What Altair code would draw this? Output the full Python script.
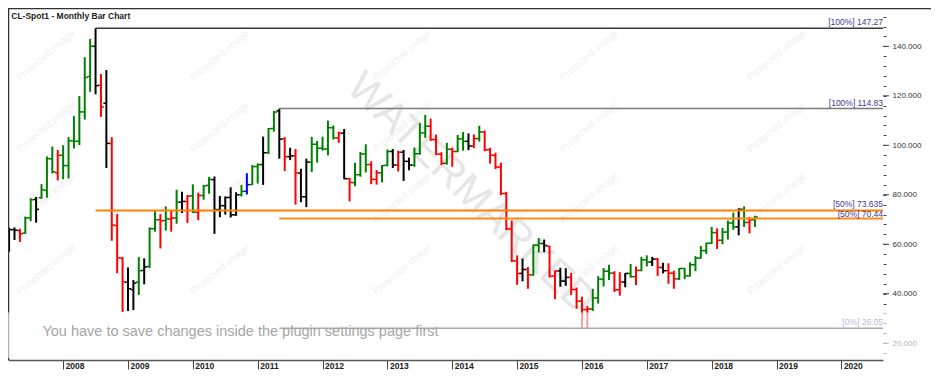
import altair as alt
import pandas as pd

# ---------------- data (monthly bars, month index 0 = Jan 2008) ----------------
first_month = -10  # March 2007

opens = [
    61.9, 65.9, 65.5, 64.5, 70.7, 78.1, 78.8, 81.8, 94.5, 88.9,            # 2007 Mar-Dec
    96.0, 91.8, 101.8, 101.6, 113.5, 127.8, 140.0, 124.3, 117.0, 100.7, 67.6, 54.4,  # 2008
    44.6, 41.7, 44.7, 49.4, 51.0, 66.3, 69.9, 69.6, 70.2, 70.6, 77.0, 77.3,          # 2009
    79.6, 72.9, 79.7, 83.8, 86.1, 74.0, 75.6, 78.9, 71.9, 80.0, 81.4, 84.1,          # 2010
    91.4, 92.2, 97.0, 106.8, 113.9, 102.6, 95.4, 95.7, 88.8, 79.2, 93.2, 100.4,      # 2011
    98.8, 98.5, 107.1, 103.0, 104.9, 86.5, 84.9, 88.1, 96.5, 92.2, 86.2, 88.9,       # 2012
    91.9, 97.5, 92.0, 97.2, 93.5, 92.0, 96.6, 105.0, 107.7, 102.3, 96.4, 92.7,       # 2013
    98.4, 97.5, 102.6, 101.6, 99.7, 102.7, 105.4, 98.2, 95.9, 91.2, 80.5, 66.1,      # 2014
    53.3, 48.2, 49.8, 47.6, 59.6, 60.3, 59.2, 47.1, 49.2, 45.1, 46.6, 41.7,          # 2015
    37.0, 33.6, 33.8, 38.3, 45.9, 49.1, 48.3, 41.6, 44.7, 48.2, 46.9, 49.4,          # 2016
    53.7, 52.8, 54.0, 50.6, 49.3, 48.3, 46.0, 50.2, 47.2, 51.7, 54.4, 57.4,          # 2017
    60.4, 64.7, 61.6, 64.9, 68.6, 67.0, 74.1, 68.8, 69.9,                            # 2018 Jan-Sep
]
highs = [
    66.7, 66.8, 66.3, 71.2, 78.6, 79.1, 84.3, 95.5, 99.5, 98.1,
    100.0, 103.3, 111.8, 119.9, 135.6, 143.0, 147.27, 128.8, 130.4, 103.3, 72.2, 54.8,
    50.6, 45.5, 54.8, 54.3, 66.8, 73.5, 72.2, 75.3, 73.5, 82.0, 81.2, 79.9,
    84.2, 80.8, 84.0, 87.2, 87.4, 79.5, 79.3, 83.0, 81.0, 84.0, 88.7, 92.0,
    92.7, 103.5, 107.0, 113.9, 114.83, 103.3, 99.0, 98.5, 90.5, 94.6, 103.4, 101.8,
    103.5, 110.0, 108.0, 105.5, 106.6, 86.8, 92.9, 97.3, 100.4, 93.5, 90.0, 92.0,
    98.3, 98.5, 97.8, 98.1, 95.0, 99.1, 109.0, 112.3, 110.8, 104.3, 97.2, 101.0,
    99.1, 104.2, 105.4, 104.8, 104.4, 107.9, 106.0, 99.0, 97.0, 93.0, 81.2, 69.6,
    55.5, 54.2, 50.8, 59.9, 62.5, 61.9, 59.4, 49.3, 50.5, 50.3, 48.4, 42.5,
    38.8, 35.0, 42.0, 47.1, 50.4, 51.7, 49.1, 48.7, 48.3, 52.0, 51.0, 54.9,
    55.5, 54.9, 54.4, 52.5, 52.3, 49.3, 50.4, 50.4, 52.7, 55.2, 59.3, 60.6,
    67.0, 66.4, 66.6, 69.6, 72.8, 74.5, 75.3, 71.0, 71.5,
]
lows = [
    57.0, 61.7, 60.9, 64.2, 69.3, 68.7, 78.4, 78.8, 88.6, 85.8,
    86.3, 86.6, 98.7, 100.1, 110.4, 121.6, 120.6, 111.5, 90.8, 61.4, 48.3, 32.6,
    33.0, 33.4, 39.5, 43.8, 50.4, 65.1, 58.3, 65.5, 65.1, 68.3, 72.6, 68.6,
    72.6, 69.7, 78.0, 80.4, 64.2, 70.9, 72.0, 70.8, 71.5, 79.3, 80.1, 84.0,
    84.5, 84.0, 96.5, 105.5, 94.6, 89.6, 94.0, 76.0, 77.0, 75.0, 89.2, 93.0,
    97.8, 95.9, 102.3, 101.0, 86.3, 77.3, 83.5, 87.3, 89.0, 84.3, 84.1, 85.0,
    91.5, 90.8, 89.4, 85.6, 89.9, 91.3, 96.2, 103.0, 101.8, 96.1, 92.0, 92.2,
    91.3, 97.2, 97.8, 98.0, 98.9, 101.5, 97.6, 92.6, 90.4, 79.8, 65.7, 52.8,
    43.6, 45.0, 42.0, 47.2, 56.7, 56.8, 46.5, 37.8, 42.8, 43.2, 39.5, 34.0,
    26.2, 26.05, 33.0, 36.0, 42.9, 45.5, 40.7, 39.2, 42.6, 46.5, 43.5, 49.1,
    51.0, 51.2, 47.2, 48.2, 44.0, 42.0, 45.5, 45.9, 47.0, 49.1, 54.2, 56.1,
    60.2, 58.1, 60.0, 61.9, 65.8, 63.6, 67.0, 64.4, 67.0,
]
closes = [
    65.9, 65.7, 64.2, 70.6, 78.0, 74.1, 82.0, 94.6, 89.3, 95.9,
    91.8, 101.8, 101.6, 113.5, 127.4, 140.0, 124.1, 115.5, 100.8, 67.8, 54.5, 44.8,
    42.0, 44.3, 49.3, 50.8, 66.3, 69.9, 69.5, 70.2, 70.6, 77.0, 77.3, 79.4,
    72.9, 79.7, 83.6, 86.2, 74.0, 75.6, 78.9, 71.9, 80.0, 81.4, 84.1, 91.4,
    92.2, 97.0, 106.7, 113.4, 102.5, 95.4, 95.7, 88.8, 79.2, 93.2, 100.4, 98.8,
    98.5, 107.1, 103.0, 104.9, 86.5, 85.0, 88.1, 96.5, 92.2, 86.2, 88.9, 91.8,
    97.5, 92.0, 97.2, 93.5, 92.0, 96.6, 105.0, 107.7, 102.3, 96.4, 92.7, 98.4,
    97.5, 102.6, 101.6, 99.7, 102.7, 105.4, 98.2, 96.0, 91.2, 80.5, 66.2, 53.3,
    48.2, 49.8, 47.6, 59.6, 60.3, 59.5, 47.1, 49.2, 45.1, 46.6, 41.7, 37.0,
    33.6, 33.8, 38.3, 45.9, 49.1, 48.3, 41.6, 44.7, 48.2, 46.9, 49.4, 53.7,
    52.8, 54.0, 50.6, 49.3, 48.3, 46.0, 50.2, 47.2, 51.7, 54.4, 57.4, 60.4,
    64.7, 61.6, 64.9, 68.6, 67.0, 74.1, 68.8, 69.8, 71.0,
]
# g = higher high/higher low, r = lower high/lower low, k = outside/inside, b = blue bar
bar_colors = [
    "k", "k", "r", "g", "g", "k", "g", "g", "g", "r",
    "g", "g", "g", "g", "g", "g", "k", "r", "k", "r", "r", "r",
    "k", "k", "g", "k", "g", "g", "r", "g", "r", "g", "k", "r",
    "g", "r", "g", "g", "k", "k", "k", "k", "k", "g", "b", "g",
    "g", "k", "g", "g", "k", "r", "k", "r", "k", "k", "g", "g",
    "g", "g", "g", "r", "k", "r", "g", "g", "g", "r", "r", "g",
    "g", "k", "r", "k", "k", "g", "g", "g", "r", "r", "r", "g",
    "r", "g", "g", "k", "r", "g", "r", "r", "r", "r", "r", "r",
    "r", "k", "r", "g", "g", "k", "r", "r", "k", "k", "r", "r",
    "r", "r", "g", "g", "g", "g", "r", "r", "k", "g", "r", "g",
    "g", "k", "r", "k", "r", "r", "g", "g", "g", "g", "g", "g",
    "g", "r", "g", "g", "g", "k", "g", "r", "g",
]

# retracement levels
level_values = [147.27, 114.83, 73.635, 70.44, 26.05]
level_start = [6, 40, 6, 40, 40]
level_labels = ["[100%] 147.27", "[100%] 114.83", "[50%] 73.635", "[50%] 70.44", "[0%] 26.05"]
level_colors = ["#3a3a3a", "#7c7c7c", "#ff8000", "#ff8a1a", "#1a1a1a"]
level_widths = [1.5, 1.5, 2.0, 2.0, 1.5]

year_ticks = list(range(0, 145, 12))
minor_y = list(range(16, 153, 4))
major_y = list(range(20, 141, 20))

title_text = "CL-Spot1 - Monthly Bar Chart"
notice_text = "You have to save changes inside the plugin settings page first"
watermark_text = "WATERMARKED"
stamp_text = "Protected image"
stamp_months = [-3.2, 29.0, 62.7, 97.3, 132.0]
stamp_prices = [136.3, 107.4, 78.6, 49.8]

# ---------------- chart ----------------
W, H = 875, 352
FONT = "Liberation Sans"

n = len(opens)
df = pd.DataFrame({
    "m": list(range(first_month, first_month + n)),
    "open": opens, "high": highs, "low": lows, "close": closes, "c": bar_colors,
})
lv = pd.DataFrame({"value": level_values, "start": level_start, "label": level_labels,
                   "lc": level_colors, "lw": level_widths})
stamps = pd.DataFrame([{"sm": a, "sp": b} for b in stamp_prices for a in stamp_months])
one = pd.DataFrame({"a": [0]})

xs = alt.Scale(domain=[-10.2, 151.7], nice=False, zero=False)
ys = alt.Scale(domain=[13.2, 155.5], nice=False, zero=False)

x_axis = alt.Axis(values=year_ticks, labelExpr="toString(2008 + datum.value / 12)",
                  grid=False, tickSize=9, tickColor="#444", domainColor="#555", domainWidth=1.5,
                  labelPadding=-8, labelAlign="left", labelBaseline="top", labelOffset=2,
                  labelFlush=False, labelOverlap=False, labelFont=FONT, labelFontSize=8.5,
                  labelFontWeight="bold", labelColor="#222", title=None)
y_axis = alt.Axis(orient="right", values=minor_y,
                  labelExpr="datum.value % 20 === 0 ? format(datum.value, '.3f') : ''",
                  domain=False, grid=False, tickSize=3, tickColor="#444", labelPadding=6,
                  labelFont=FONT, labelFontSize=8, labelColor="#333", labelOverlap=False,
                  labelFlush=False, title=None)


def X(field):
    return alt.X(field, type="quantitative", scale=xs, axis=x_axis)


def Y(field):
    return alt.Y(field, type="quantitative", scale=ys, axis=y_axis)


stamp_layer = alt.Chart(stamps).mark_text(
    text=stamp_text, angle=320, fontSize=10, font=FONT, color="#efefef"
).encode(x=X("sm"), y=Y("sp"))

wm_layer = alt.Chart(pd.DataFrame({"wm": [75.5], "wp": [80.5]})).mark_text(
    text=watermark_text, angle=44, fontSize=42, font=FONT, color="#e6e6e6"
).encode(x=X("wm"), y=Y("wp"))

color_enc = alt.Color("c:N", scale=alt.Scale(domain=["g", "r", "k", "b"],
                                             range=["#008000", "#ff0000", "#000000", "#0000ff"]),
                      legend=None)

bars = alt.Chart(df).mark_rule(strokeWidth=2).encode(
    x=X("m"), y=Y("low"), y2="high:Q", color=color_enc,
)
open_ticks = alt.Chart(df).transform_calculate(xo="datum.m - 0.55").mark_rule(strokeWidth=1.5).encode(
    x=X("xo"), x2="m:Q", y=Y("open"), color=color_enc,
)
close_ticks = alt.Chart(df).transform_calculate(xc="datum.m + 0.55").mark_rule(strokeWidth=1.5).encode(
    x=X("m"), x2="xc:Q", y=Y("close"), color=color_enc,
)

level_lines = alt.Chart(lv).mark_rule().encode(
    x=X("start"), x2=alt.value(W), y=Y("value"),
    color=alt.Color("lc:N", scale=None, legend=None),
    strokeWidth=alt.StrokeWidth("lw:Q", scale=None, legend=None),
)
text_style = dict(align="right", baseline="bottom", fontSize=8.5, font=FONT, color="#3a3a96")
level_text_main = alt.Chart(lv).transform_filter(
    "indexof(datum.label, '[50%]') < 0"
).mark_text(dy=-1, **text_style).encode(x=alt.value(W), y=Y("value"), text="label:N")
level_text_upper = alt.Chart(lv).transform_filter(
    "datum.label == '[50%] 73.635'"
).mark_text(dy=-1.5, **text_style).encode(x=alt.value(W), y=Y("value"), text="label:N")
level_text_lower = alt.Chart(lv).transform_filter(
    "datum.label == '[50%] 70.44'"
).mark_text(dy=0.5, **text_style).encode(x=alt.value(W), y=Y("value"), text="label:N")

major_ticks = alt.Chart(pd.DataFrame({"v": major_y})).mark_rule(color="#444", strokeWidth=1).encode(
    x=alt.value(W), x2=alt.value(W + 6), y=Y("v")
)

top_border = alt.Chart(one).mark_rule(color="#333", strokeWidth=1.5).encode(
    x=alt.value(0), x2=alt.value(W + 48), y=alt.value(0.5)
)
left_border = alt.Chart(one).mark_rule(color="#333", strokeWidth=1.5).encode(
    x=alt.value(0.5), y=alt.value(0), y2=alt.value(H)
)

overlay = alt.Chart(pd.DataFrame({"t": [32.4], "b": [14.0]})).mark_rect(color="white", opacity=0.62).encode(
    x=alt.value(0), x2=alt.value(W + 48), y=Y("t"), y2="b:Q",
)
notice = alt.Chart(pd.DataFrame({"nm": [-3.83], "np": [24.7]})).mark_text(
    text=notice_text, align="left", baseline="middle", fontSize=14.5, font=FONT, color="#a6a6a6"
).encode(x=X("nm"), y=Y("np"))

title = alt.Chart(pd.DataFrame({"tm": [-9.6], "tp": [152.3]})).mark_text(
    text=title_text, align="left", baseline="middle", fontSize=8.5, fontWeight="bold",
    font=FONT, color="#222"
).encode(x=X("tm"), y=Y("tp"))

chart = alt.layer(
    stamp_layer, wm_layer, bars, open_ticks, close_ticks, level_lines,
    level_text_main, level_text_upper, level_text_lower,
    major_ticks, top_border, left_border, overlay, notice, title,
).properties(
    width=W, height=H,
    autosize=alt.AutoSizeParams(type="none"),
    padding={"left": 0, "top": 0, "right": 48, "bottom": 11},
).configure_view(stroke=None)

chart.save("out.html", embed_options={"renderer": "svg", "actions": False})
